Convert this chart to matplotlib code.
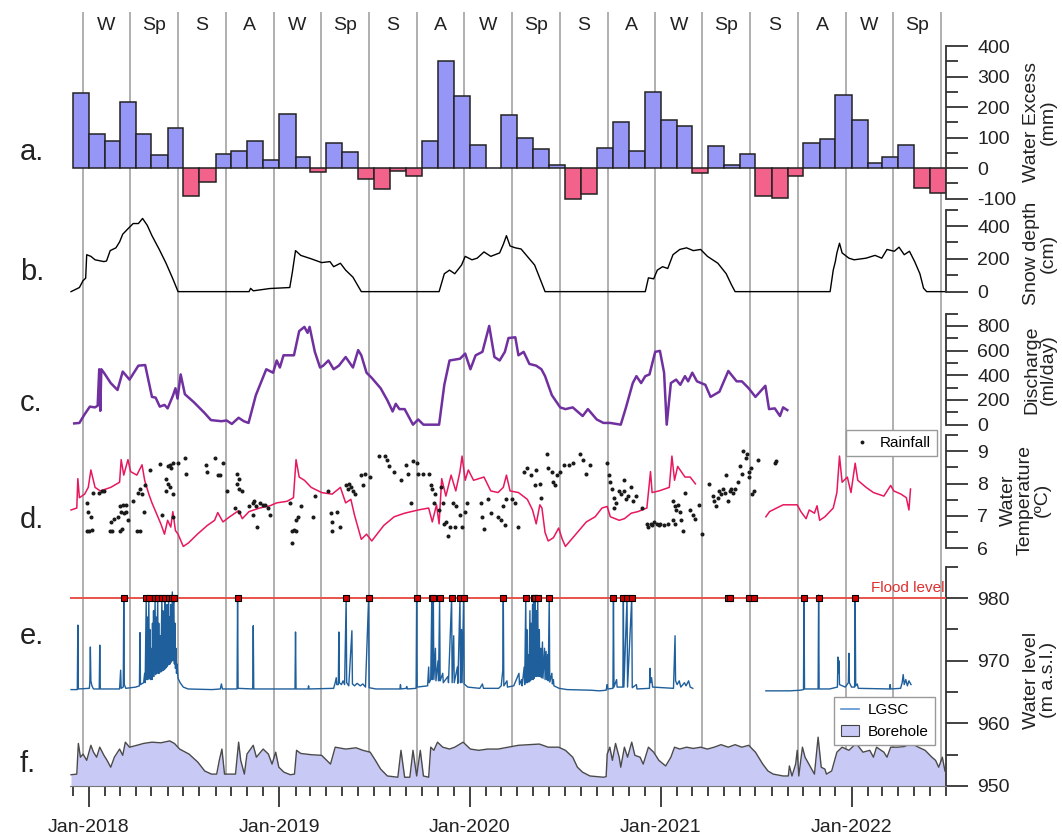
import numpy as np
import pandas as pd
import matplotlib
matplotlib.use("Agg")
import matplotlib.pyplot as plt
import matplotlib.dates as mdates
import matplotlib.transforms as mtransforms
from matplotlib.lines import Line2D
from matplotlib.patches import Patch
from matplotlib.ticker import FixedLocator

plt.rcParams['font.family'] = ['Liberation Sans', 'DejaVu Sans']

nan = np.nan

# ---------------- data ----------------
season_edges = ["2017-12-21", "2018-03-21", "2018-06-21", "2018-09-21", "2018-12-21",
                "2019-03-21", "2019-06-21", "2019-09-21", "2019-12-21", "2020-03-21",
                "2020-06-21", "2020-09-21", "2020-12-21", "2021-03-21", "2021-06-21",
                "2021-09-21", "2021-12-21", "2022-03-21", "2022-06-21"]
season_names = ["W", "Sp", "S", "A"] * 4 + ["W", "Sp"]

# a. monthly water excess (mm), Dec 2017 .. Jun 2022
excess_start = "2017-12-01"
excess = [245, 111, 90, 216, 111, 43, 131, -92, -45, 46, 56, 89,
          27, 178, 38, -14, 81, 52, -36, -70, -11, -27, 89, 351,
          237, 76, 0, 173, 100, 63, 9, -100, -86, 65, 151, 56,
          249, 157, 137, -16, 72, 11, 46, -92, -97, -25, 83, 94,
          240, 159, 16, 38, 75, -65, -81]

# b. snow depth (cm)
snow = [("2017-11-28", 0), ("2017-12-14", 25), ("2017-12-21", 67), ("2017-12-26", 82),
        ("2017-12-28", 225), ("2018-01-05", 215), ("2018-01-13", 194), ("2018-01-30", 183),
        ("2018-02-04", 187), ("2018-02-11", 250), ("2018-02-22", 267), ("2018-03-01", 303),
        ("2018-03-07", 350), ("2018-03-17", 383), ("2018-03-27", 415), ("2018-04-06", 415),
        ("2018-04-14", 446), ("2018-04-23", 404), ("2018-05-02", 341), ("2018-05-16", 257),
        ("2018-05-29", 173), ("2018-06-11", 78), ("2018-06-21", 0), ("2018-11-04", 0),
        ("2018-11-07", 20), ("2018-11-12", 5), ("2018-12-14", 19), ("2019-01-21", 25),
        ("2019-01-26", 120), ("2019-02-01", 250), ("2019-02-11", 221), ("2019-03-03", 200),
        ("2019-03-23", 177), ("2019-04-08", 183), ("2019-04-15", 152), ("2019-04-28", 173),
        ("2019-05-08", 131), ("2019-05-22", 88), ("2019-06-07", 0), ("2019-11-03", 0),
        ("2019-11-13", 109), ("2019-11-23", 131), ("2019-12-03", 109), ("2019-12-16", 162),
        ("2019-12-23", 215), ("2020-01-05", 194), ("2020-01-15", 204), ("2020-01-28", 242),
        ("2020-02-10", 215), ("2020-02-27", 236), ("2020-03-05", 288), ("2020-03-11", 341),
        ("2020-03-18", 278), ("2020-03-28", 267), ("2020-04-08", 260), ("2020-05-04", 162),
        ("2020-05-17", 57), ("2020-05-24", 0), ("2020-12-02", 0), ("2020-12-08", 84),
        ("2020-12-18", 78), ("2020-12-25", 131), ("2021-01-04", 152), ("2021-01-14", 141),
        ("2021-01-24", 225), ("2021-02-06", 257), ("2021-02-19", 267), ("2021-03-04", 250),
        ("2021-03-18", 257), ("2021-03-31", 215), ("2021-04-20", 173), ("2021-05-06", 109),
        ("2021-05-16", 42), ("2021-05-23", 0), ("2021-11-21", 0), ("2021-11-27", 131),
        ("2021-12-01", 183), ("2021-12-04", 236), ("2021-12-09", 295), ("2021-12-14", 236),
        ("2021-12-27", 204), ("2022-01-06", 194), ("2022-01-29", 204), ("2022-02-15", 221),
        ("2022-02-28", 204), ("2022-03-10", 257), ("2022-03-24", 246), ("2022-04-02", 271),
        ("2022-04-12", 225), ("2022-04-22", 246), ("2022-05-02", 183), ("2022-05-12", 109),
        ("2022-05-19", 21), ("2022-05-25", 0), ("2022-07-01", 0)]

# c. discharge (ml/day)
discharge = [("2017-12-04", 10), ("2017-12-14", 14), ("2017-12-24", 84), ("2018-01-03", 146),
             ("2018-01-13", 140), ("2018-01-18", 154), ("2018-01-21", 449), ("2018-01-23", 112),
             ("2018-01-25", 449), ("2018-01-30", 421), ("2018-02-12", 337), ("2018-02-25", 281),
             ("2018-03-07", 430), ("2018-03-20", 365), ("2018-04-06", 478), ("2018-04-19", 483),
             ("2018-05-02", 225), ("2018-05-09", 219), ("2018-05-17", 146), ("2018-05-26", 160),
             ("2018-06-01", 132), ("2018-06-11", 233), ("2018-06-16", 295), ("2018-06-20", 211),
             ("2018-06-26", 407), ("2018-07-04", 247), ("2018-07-21", 183), ("2018-08-10", 98),
             ("2018-08-23", 37), ("2018-09-12", 28), ("2018-09-22", 34), ("2018-10-02", 6),
             ("2018-10-15", 56), ("2018-10-25", 28), ("2018-11-03", 14), ("2018-11-17", 239),
             ("2018-12-07", 449), ("2018-12-20", 421), ("2018-12-27", 520), ("2019-01-02", 463),
             ("2019-01-09", 562), ("2019-01-29", 562), ("2019-02-08", 758), ("2019-02-18", 792),
             ("2019-02-24", 744), ("2019-02-28", 792), ("2019-03-10", 590), ("2019-03-20", 463),
             ("2019-03-26", 478), ("2019-04-05", 520), ("2019-04-15", 449), ("2019-04-25", 478),
             ("2019-05-08", 548), ("2019-05-22", 463), ("2019-06-01", 604), ("2019-06-07", 562),
             ("2019-06-17", 421), ("2019-06-27", 379), ("2019-07-14", 295), ("2019-07-27", 197),
             ("2019-08-06", 107), ("2019-08-12", 169), ("2019-08-19", 126), ("2019-08-29", 126),
             ("2019-09-14", 0), ("2019-09-24", 42), ("2019-10-04", 0), ("2019-11-03", 0),
             ("2019-11-13", 323), ("2019-11-23", 520), ("2019-12-13", 534), ("2019-12-23", 576),
             ("2020-01-02", 449), ("2020-01-12", 562), ("2020-01-25", 590), ("2020-02-07", 800),
             ("2020-02-17", 548), ("2020-02-27", 520), ("2020-03-08", 590), ("2020-03-15", 702),
             ("2020-03-28", 708), ("2020-04-03", 562), ("2020-04-13", 590), ("2020-04-24", 492),
             ("2020-05-07", 478), ("2020-05-17", 449), ("2020-05-24", 393), ("2020-06-06", 239),
             ("2020-06-22", 140), ("2020-07-02", 126), ("2020-07-16", 140), ("2020-08-04", 70),
             ("2020-08-14", 126), ("2020-08-31", 42), ("2020-09-13", 14), ("2020-09-26", 14),
             ("2020-10-16", 0), ("2020-10-26", 140), ("2020-11-08", 337), ("2020-11-15", 393),
             ("2020-11-24", 337), ("2020-12-02", 393), ("2020-12-10", 407), ("2020-12-21", 590),
             ("2020-12-30", 598), ("2021-01-07", 421), ("2021-01-12", 0), ("2021-01-20", 337),
             ("2021-01-30", 365), ("2021-02-07", 323), ("2021-02-16", 393), ("2021-02-22", 351),
             ("2021-03-02", 421), ("2021-03-11", 351), ("2021-03-27", 323), ("2021-04-06", 225),
             ("2021-04-23", 267), ("2021-05-10", 435), ("2021-05-26", 351), ("2021-06-05", 351),
             ("2021-06-18", 295), ("2021-07-01", 225), ("2021-07-20", 315), ("2021-07-27", 126),
             ("2021-08-07", 132), ("2021-08-17", 70), ("2021-08-23", 140), ("2021-08-31", 118)]

# d. water temperature (degC)
temperature = [("2017-11-28", 7.18), ("2017-12-09", 7.24), ("2017-12-11", 8.15), ("2017-12-14", 7.56),
               ("2017-12-24", 7.67), ("2017-12-31", 7.88), ("2018-01-05", 8.42), ("2018-01-09", 8.15),
               ("2018-01-13", 7.88), ("2018-01-23", 7.77), ("2018-02-12", 7.88), ("2018-03-01", 8.04),
               ("2018-03-04", 8.74), ("2018-03-09", 8.26), ("2018-03-17", 8.74), ("2018-03-22", 8.37),
               ("2018-04-03", 8.26), ("2018-04-13", 8.58), ("2018-04-18", 8.10), ("2018-04-26", 7.67),
               ("2018-05-02", 7.40), ("2018-05-12", 7.02), ("2018-05-19", 6.75), ("2018-05-26", 6.43),
               ("2018-06-01", 6.86), ("2018-06-07", 6.65), ("2018-06-11", 7.13), ("2018-06-16", 6.54),
               ("2018-06-21", 6.43), ("2018-07-01", 6.05), ("2018-07-11", 6.16), ("2018-07-28", 6.43),
               ("2018-08-16", 6.70), ("2018-08-30", 6.86), ("2018-09-05", 7.10), ("2018-09-15", 6.81),
               ("2018-09-28", 6.97), ("2018-10-15", 7.16), ("2018-10-22", 6.91), ("2018-11-04", 7.13),
               ("2018-11-24", 7.24), ("2018-12-14", 7.31), ("2018-12-27", 7.40), ("2019-01-16", 7.45),
               ("2019-01-28", 7.56), ("2019-02-02", 8.74), ("2019-02-08", 8.20), ("2019-02-18", 8.10),
               ("2019-03-03", 7.88), ("2019-03-23", 7.72), ("2019-04-12", 7.67), ("2019-04-28", 7.88),
               ("2019-05-08", 7.40), ("2019-05-18", 7.51), ("2019-05-25", 7.02), ("2019-06-07", 6.27),
               ("2019-06-17", 6.43), ("2019-06-27", 6.22), ("2019-07-07", 6.43), ("2019-07-20", 6.70),
               ("2019-08-09", 6.97), ("2019-08-29", 7.08), ("2019-09-24", 7.18), ("2019-10-14", 7.24),
               ("2019-10-21", 6.81), ("2019-10-29", 7.34), ("2019-11-03", 6.75), ("2019-11-08", 8.15),
               ("2019-11-16", 7.61), ("2019-11-26", 8.26), ("2019-12-05", 7.77), ("2019-12-13", 8.37),
               ("2019-12-17", 8.85), ("2019-12-23", 8.10), ("2019-12-29", 8.42), ("2020-01-08", 8.10),
               ("2020-01-28", 8.20), ("2020-02-10", 7.77), ("2020-02-24", 7.72), ("2020-03-05", 7.88),
               ("2020-03-11", 8.26), ("2020-03-18", 7.77), ("2020-04-03", 7.72), ("2020-04-20", 7.51),
               ("2020-04-30", 7.18), ("2020-05-07", 6.75), ("2020-05-14", 7.34), ("2020-05-18", 7.24),
               ("2020-05-24", 6.48), ("2020-05-30", 6.22), ("2020-06-09", 6.32), ("2020-06-19", 6.62),
               ("2020-06-26", 6.27), ("2020-07-02", 6.05), ("2020-07-22", 6.43), ("2020-08-11", 6.81),
               ("2020-08-28", 6.97), ("2020-09-10", 7.24), ("2020-09-20", 7.29), ("2020-09-26", 6.97),
               ("2020-10-13", 6.86), ("2020-10-23", 6.91), ("2020-11-05", 7.08), ("2020-11-18", 7.13),
               ("2020-12-05", 7.24), ("2020-12-12", 8.37), ("2020-12-15", 7.72), ("2020-12-28", 7.77),
               ("2021-01-17", 7.88), ("2021-01-22", 8.85), ("2021-01-27", 8.10), ("2021-02-02", 8.53),
               ("2021-02-16", 8.20), ("2021-02-26", 8.20), ("2021-03-08", 7.99), ("2021-03-09", nan),
               ("2021-07-21", 6.97), ("2021-07-28", 7.13), ("2021-08-23", 7.34), ("2021-09-19", 7.34),
               ("2021-09-26", 7.13), ("2021-10-06", 6.91), ("2021-10-12", 7.18), ("2021-10-22", 7.08),
               ("2021-10-27", 7.31), ("2021-11-01", 6.86), ("2021-11-11", 6.97), ("2021-11-27", 7.24),
               ("2021-12-04", 7.72), ("2021-12-09", 8.85), ("2021-12-14", 8.04), ("2021-12-24", 8.20),
               ("2021-12-31", 7.72), ("2022-01-08", 8.63), ("2022-01-13", 8.10), ("2022-01-29", 7.88),
               ("2022-02-12", 7.72), ("2022-03-04", 7.61), ("2022-03-17", 7.94), ("2022-03-23", 7.77),
               ("2022-04-06", 7.67), ("2022-04-16", 7.56), ("2022-04-21", 7.18), ("2022-04-24", 7.83)]

# rainfall dots: (days after 2017-12-21, height on the temperature scale)
rain_origin = "2017-12-21"
rainfall = [(7, 7.40), (10, 7.13), (15, 6.97), (19, 7.72), (7, 6.54), (12, 6.54), (17, 6.56),
            (30, 7.72), (36, 7.77), (40, 7.77), (54, 6.81), (60, 6.91), (66, 6.97), (70, 7.29),
            (76, 7.34), (73, 7.13), (79, 7.08), (83, 7.13), (86, 6.86), (52, 6.54), (56, 6.54),
            (70, 6.54), (74, 6.59), (83, 7.34), (96, 7.45), (105, 7.72), (109, 7.83), (113, 7.67),
            (116, 7.13), (103, 6.54), (109, 6.54), (119, 7.94), (129, 8.42), (147, 8.60), (158, 8.15),
            (162, 8.53), (166, 8.58), (169, 8.47), (172, 8.63), (182, 8.63), (162, 7.99), (166, 7.88),
            (172, 7.67), (159, 7.77), (195, 8.80), (197, 8.31), (152, 7.02), (172, 6.97), (235, 8.58),
            (238, 8.37), (252, 8.80), (258, 8.26), (262, 8.26), (268, 8.63), (275, 7.77), (295, 8.31),
            (298, 8.15), (295, 7.99), (298, 7.83), (305, 7.77), (291, 7.24), (298, 7.13), (318, 7.29),
            (325, 7.40), (328, 7.45), (331, 7.29), (334, 6.65), (338, 7.40), (344, 7.34), (348, 7.34),
            (354, 7.24), (358, 7.02), (325, 7.02), (397, 7.40), (401, 6.54), (404, 6.56), (407, 6.52),
            (407, 6.86), (411, 6.97), (401, 6.16), (417, 7.29), (440, 6.97), (444, 7.61), (469, 7.77),
            (474, 7.08), (477, 6.81), (477, 6.54), (487, 7.13), (493, 6.65), (503, 7.94), (507, 7.83),
            (513, 7.88), (517, 7.77), (510, 7.99), (520, 7.67), (533, 8.26), (540, 8.31), (536, 7.94),
            (550, 8.20), (566, 8.85), (579, 8.85), (583, 8.74), (586, 8.53), (596, 8.37), (609, 8.10),
            (619, 8.58), (623, 8.31), (632, 8.69), (639, 8.63), (642, 8.31), (652, 8.31), (662, 8.31),
            (629, 7.40), (666, 7.94), (669, 7.83), (672, 7.40), (675, 7.67), (685, 7.88), (689, 7.40),
            (682, 7.18), (692, 6.75), (695, 6.81), (702, 6.65), (699, 6.38), (709, 7.40), (715, 7.29),
            (722, 7.02), (732, 7.13), (735, 7.40), (725, 6.65), (712, 6.65), (762, 7.40), (765, 6.97),
            (768, 6.59), (775, 7.51), (781, 7.08), (795, 6.97), (801, 6.86), (805, 7.29), (808, 6.70),
            (811, 7.51), (821, 7.51), (828, 7.40), (834, 6.65),
            (845, 8.37), (851, 8.47), (858, 8.26), (865, 7.94), (868, 8.42), (875, 7.99), (878, 7.56),
            (888, 8.90), (891, 8.47), (898, 8.37), (901, 8.04), (904, 7.94), (908, 8.26), (914, 8.37),
            (921, 8.58), (931, 8.58), (938, 8.63), (951, 8.90), (957, 8.74), (964, 8.31), (971, 8.58),
            (1004, 8.63), (1007, 8.26), (1010, 8.04), (1014, 7.83), (1017, 7.56), (1020, 7.40),
            (1017, 7.24), (1027, 7.77), (1030, 7.67), (1037, 8.10), (1037, 7.77), (1040, 7.51),
            (1043, 7.61), (1050, 7.88), (1053, 7.45), (1060, 7.61), (1070, 7.24), (1080, 6.75),
            (1083, 6.65), (1087, 6.75), (1090, 6.70), (1093, 6.81), (1100, 6.75), (1103, 6.70),
            (1106, 6.75), (1113, 6.70), (1120, 6.75), (1130, 7.45), (1133, 7.29), (1136, 7.18),
            (1139, 7.34), (1143, 7.13), (1130, 6.86), (1133, 6.75), (1146, 6.86), (1149, 6.54),
            (1153, 7.72), (1163, 7.18), (1169, 7.02), (1173, 6.91), (1179, 7.34), (1186, 6.43),
            (1199, 7.99), (1206, 7.61), (1209, 7.45), (1212, 7.29), (1216, 7.56), (1219, 7.77),
            (1222, 7.67), (1226, 7.83), (1229, 7.72), (1232, 8.26), (1236, 7.45), (1239, 7.77),
            (1242, 7.83), (1245, 7.72), (1249, 7.83), (1255, 8.04), (1259, 8.53), (1262, 8.31),
            (1265, 9.01), (1269, 8.80), (1272, 8.90), (1275, 8.37), (1279, 8.47), (1275, 8.20),
            (1281, 7.67), (1285, 7.77), (1292, 8.74), (1325, 8.63), (1328, 8.69)]

# e. LGSC stream water level (m a.s.l.)
lgsc = [("2017-11-28", 965.4), ("2017-12-10", 965.4), ("2017-12-11", 975.7), ("2017-12-12", 965.5),
        ("2018-01-02", 965.6), ("2018-01-03", 966.5), ("2018-01-04", 972.2), ("2018-01-05", 966.8),
        ("2018-01-07", 966.0), ("2018-01-10", 965.5), ("2018-01-21", 965.5), ("2018-01-22", 972.5),
        ("2018-01-23", 965.5), ("2018-03-01", 965.5), ("2018-03-03", 968.5), ("2018-03-04", 965.6),
        ("2018-03-08", 965.8), ("2018-03-09", 980.0), ("2018-03-10", 966.2), ("2018-03-13", 965.6),
        ("2018-04-01", 965.8), ("2018-04-08", 966.0), ("2018-04-09", 974.5), ("2018-04-10", 966.2),
        ("2018-04-16", 966.5), ("2018-04-18", 968.0), ("2018-04-19", 966.5), ("2018-04-21", 980.0),
        ("2018-04-22", 967.0), ("2018-04-23", 977.0), ("2018-04-24", 967.0), ("2018-04-26", 980.0),
        ("2018-04-27", 967.2), ("2018-04-28", 975.0), ("2018-04-29", 967.0), ("2018-04-30", 972.0),
        ("2018-05-02", 967.0), ("2018-05-03", 976.0), ("2018-05-04", 967.5), ("2018-05-05", 978.0),
        ("2018-05-06", 967.5), ("2018-05-08", 980.0), ("2018-05-09", 967.8), ("2018-05-10", 977.0),
        ("2018-05-11", 968.0), ("2018-05-13", 980.0), ("2018-05-14", 968.0), ("2018-05-15", 976.0),
        ("2018-05-16", 968.0), ("2018-05-18", 974.0), ("2018-05-19", 968.2), ("2018-05-21", 980.0),
        ("2018-05-22", 968.4), ("2018-05-23", 978.0), ("2018-05-24", 968.5), ("2018-05-25", 975.0),
        ("2018-05-26", 968.6), ("2018-05-27", 980.0), ("2018-05-28", 968.8), ("2018-05-29", 977.0),
        ("2018-05-30", 969.0), ("2018-05-31", 979.0), ("2018-06-01", 969.2), ("2018-06-03", 980.0),
        ("2018-06-04", 969.4), ("2018-06-05", 977.0), ("2018-06-06", 969.5), ("2018-06-07", 979.0),
        ("2018-06-08", 969.8), ("2018-06-10", 981.0), ("2018-06-11", 970.0), ("2018-06-12", 979.0),
        ("2018-06-13", 980.0), ("2018-06-14", 969.5), ("2018-06-15", 976.0), ("2018-06-16", 968.8),
        ("2018-06-17", 972.0), ("2018-06-18", 968.0), ("2018-06-19", 969.5), ("2018-06-21", 967.2),
        ("2018-06-25", 966.5), ("2018-07-01", 965.8), ("2018-07-10", 965.5), ("2018-08-25", 965.4),
        ("2018-09-10", 965.5), ("2018-09-12", 966.3), ("2018-09-14", 965.5), ("2018-10-12", 965.5),
        ("2018-10-13", 980.0), ("2018-10-14", 965.6), ("2018-11-11", 965.5), ("2018-11-12", 975.6),
        ("2018-11-13", 965.5), ("2019-01-31", 965.5), ("2019-02-01", 974.6), ("2019-02-02", 965.5),
        ("2019-02-25", 965.5), ("2019-02-26", 966.0), ("2019-02-27", 965.5), ("2019-04-15", 965.6),
        ("2019-04-18", 966.5), ("2019-04-20", 967.3), ("2019-04-21", 966.2), ("2019-04-24", 966.2),
        ("2019-04-25", 974.6), ("2019-04-26", 966.5), ("2019-04-30", 966.2), ("2019-05-03", 966.8),
        ("2019-05-06", 966.2), ("2019-05-09", 980.0), ("2019-05-10", 966.5), ("2019-05-14", 966.0),
        ("2019-05-20", 974.8), ("2019-05-21", 966.3), ("2019-05-25", 966.0), ("2019-05-30", 966.4),
        ("2019-06-05", 966.0), ("2019-06-10", 966.3), ("2019-06-15", 965.8), ("2019-06-21", 980.0),
        ("2019-06-22", 965.7), ("2019-07-05", 965.5), ("2019-08-20", 965.5), ("2019-08-21", 966.2),
        ("2019-08-22", 965.5), ("2019-09-01", 965.6), ("2019-09-02", 965.9), ("2019-09-03", 965.5),
        ("2019-09-20", 965.6), ("2019-09-21", 980.0), ("2019-09-22", 965.8), ("2019-10-12", 966.0),
        ("2019-10-14", 969.0), ("2019-10-15", 966.5), ("2019-10-18", 967.0), ("2019-10-20", 980.0),
        ("2019-10-21", 967.0), ("2019-10-22", 970.0), ("2019-10-23", 980.0), ("2019-10-24", 967.0),
        ("2019-10-27", 972.0), ("2019-10-28", 966.8), ("2019-11-01", 970.0), ("2019-11-02", 966.8),
        ("2019-11-04", 980.0), ("2019-11-05", 966.8), ("2019-11-10", 968.0), ("2019-11-11", 966.5),
        ("2019-11-20", 967.5), ("2019-11-21", 966.5), ("2019-11-27", 980.0), ("2019-11-28", 966.5),
        ("2019-12-01", 974.0), ("2019-12-02", 966.5), ("2019-12-08", 969.0), ("2019-12-09", 966.4),
        ("2019-12-13", 980.0), ("2019-12-14", 966.5), ("2019-12-16", 975.0), ("2019-12-17", 966.5),
        ("2019-12-20", 980.0), ("2019-12-21", 966.3), ("2019-12-28", 965.8), ("2020-01-20", 965.6),
        ("2020-01-25", 966.3), ("2020-01-27", 965.6), ("2020-02-25", 965.6), ("2020-03-01", 966.0),
        ("2020-03-04", 968.5), ("2020-03-05", 980.0), ("2020-03-06", 966.0), ("2020-03-12", 966.8),
        ("2020-03-13", 965.8), ("2020-03-25", 966.0), ("2020-04-04", 968.0), ("2020-04-05", 966.2),
        ("2020-04-09", 967.0), ("2020-04-10", 966.0), ("2020-04-14", 969.0), ("2020-04-15", 966.2),
        ("2020-04-17", 980.0), ("2020-04-18", 966.5), ("2020-04-19", 975.0), ("2020-04-20", 966.5),
        ("2020-04-22", 971.0), ("2020-04-23", 966.6), ("2020-04-25", 978.0), ("2020-04-26", 966.8),
        ("2020-04-27", 976.0), ("2020-04-28", 967.0), ("2020-04-30", 979.0), ("2020-05-01", 967.0),
        ("2020-05-02", 980.0), ("2020-05-03", 967.2), ("2020-05-04", 979.0), ("2020-05-05", 980.0),
        ("2020-05-06", 967.5), ("2020-05-07", 978.0), ("2020-05-08", 967.5), ("2020-05-10", 980.0),
        ("2020-05-11", 967.5), ("2020-05-13", 975.0), ("2020-05-14", 967.5), ("2020-05-16", 972.0),
        ("2020-05-17", 967.3), ("2020-05-19", 973.0), ("2020-05-20", 967.2), ("2020-05-23", 972.0),
        ("2020-05-24", 967.0), ("2020-05-26", 971.5), ("2020-05-27", 967.0), ("2020-05-29", 971.0),
        ("2020-05-30", 966.8), ("2020-06-01", 980.0), ("2020-06-02", 966.6), ("2020-06-06", 968.0),
        ("2020-06-07", 966.3), ("2020-06-09", 967.0), ("2020-06-10", 966.0), ("2020-06-20", 965.6),
        ("2020-07-05", 965.4), ("2020-08-20", 965.3), ("2020-09-05", 965.2), ("2020-09-18", 965.3),
        ("2020-09-20", 966.2), ("2020-09-21", 965.5), ("2020-10-01", 965.6), ("2020-10-02", 980.0),
        ("2020-10-03", 965.8), ("2020-10-08", 967.0), ("2020-10-09", 965.8), ("2020-10-20", 965.8),
        ("2020-10-21", 980.0), ("2020-10-22", 965.8), ("2020-10-28", 980.0), ("2020-10-29", 965.8),
        ("2020-11-06", 980.0), ("2020-11-07", 965.7), ("2020-11-15", 966.2), ("2020-11-16", 965.5),
        ("2020-12-10", 965.6), ("2020-12-11", 968.8), ("2020-12-12", 966.5), ("2020-12-14", 967.3),
        ("2020-12-16", 965.8), ("2021-01-25", 965.6), ("2021-01-28", 974.0), ("2021-01-29", 966.8),
        ("2021-02-01", 966.2), ("2021-02-05", 966.8), ("2021-02-08", 965.8), ("2021-02-15", 966.5),
        ("2021-02-18", 966.0), ("2021-02-23", 966.8), ("2021-02-26", 965.8), ("2021-03-03", 965.6),
        ("2021-03-04", nan),
        ("2021-07-21", 965.2), ("2021-09-05", 965.2), ("2021-09-25", 965.3), ("2021-10-01", 965.4),
        ("2021-10-02", 980.0), ("2021-10-03", 965.5), ("2021-10-29", 965.5), ("2021-10-30", 980.5),
        ("2021-10-31", 965.5), ("2021-11-20", 965.5), ("2021-12-05", 965.8), ("2021-12-06", 970.6),
        ("2021-12-07", 968.0), ("2021-12-08", 970.0), ("2021-12-09", 966.2), ("2021-12-20", 965.8),
        ("2021-12-26", 966.5), ("2021-12-27", 971.2), ("2021-12-28", 966.5), ("2022-01-01", 965.8),
        ("2022-01-07", 965.8), ("2022-01-08", 980.0), ("2022-01-09", 966.0), ("2022-01-12", 966.3),
        ("2022-01-14", 965.6), ("2022-03-15", 965.5), ("2022-03-16", 966.2), ("2022-03-17", 965.5),
        ("2022-04-05", 965.6), ("2022-04-08", 966.5), ("2022-04-10", 967.8), ("2022-04-12", 966.2),
        ("2022-04-15", 967.0), ("2022-04-18", 966.0), ("2022-04-21", 966.8), ("2022-04-25", 966.2)]

flood_level = 980
flood_dates = ["2018-03-09", "2018-04-21", "2018-04-26", "2018-05-08", "2018-05-13", "2018-05-21",
               "2018-05-27", "2018-06-03", "2018-06-10", "2018-06-13", "2018-10-13", "2019-05-09",
               "2019-06-21", "2019-09-21", "2019-10-20", "2019-10-23", "2019-11-04", "2019-11-27",
               "2019-12-13", "2019-12-20", "2020-03-05", "2020-04-17", "2020-05-02", "2020-05-05",
               "2020-05-10", "2020-06-01", "2020-10-02", "2020-10-21", "2020-10-28", "2020-11-06",
               "2021-05-09", "2021-05-14", "2021-06-18", "2021-06-28", "2021-10-02", "2021-10-30",
               "2022-01-08"]

# f. borehole water level (m a.s.l.)
borehole = [("2017-11-28", 951.8), ("2017-12-09", 951.9), ("2017-12-12", 956.8), ("2017-12-16", 954.6),
            ("2017-12-21", 955.1), ("2017-12-28", 954.1), ("2018-01-05", 956.5), ("2018-01-10", 955.4),
            ("2018-01-16", 954.6), ("2018-01-22", 956.2), ("2018-01-30", 954.9), ("2018-02-05", 954.1),
            ("2018-02-12", 953.0), ("2018-02-19", 954.6), ("2018-03-01", 955.9), ("2018-03-07", 954.9),
            ("2018-03-12", 957.0), ("2018-03-20", 956.2), ("2018-04-03", 956.5), ("2018-04-16", 956.8),
            ("2018-05-02", 957.0), ("2018-05-19", 956.9), ("2018-06-05", 957.2), ("2018-06-14", 956.8),
            ("2018-06-24", 955.9), ("2018-07-12", 955.1), ("2018-07-29", 953.8), ("2018-08-11", 952.4),
            ("2018-08-24", 951.9), ("2018-09-03", 951.9), ("2018-09-08", 954.1), ("2018-09-13", 955.9),
            ("2018-09-18", 951.9), ("2018-10-09", 951.9), ("2018-10-15", 957.0), ("2018-10-19", 954.1),
            ("2018-10-26", 951.9), ("2018-10-31", 955.1), ("2018-11-12", 956.5), ("2018-11-18", 954.6),
            ("2018-12-01", 955.9), ("2018-12-11", 955.1), ("2018-12-18", 953.5), ("2018-12-25", 955.4),
            ("2018-12-31", 953.0), ("2019-01-10", 952.2), ("2019-01-22", 951.8), ("2019-01-30", 951.9),
            ("2019-02-03", 955.7), ("2019-02-11", 955.2), ("2019-03-03", 955.0), ("2019-03-23", 954.9),
            ("2019-04-09", 953.5), ("2019-04-18", 956.2), ("2019-05-08", 955.9), ("2019-05-28", 956.1),
            ("2019-06-10", 955.7), ("2019-06-24", 955.4), ("2019-07-04", 954.1), ("2019-07-14", 952.7),
            ("2019-07-27", 951.6), ("2019-08-16", 951.4), ("2019-08-22", 955.7), ("2019-08-29", 951.4),
            ("2019-09-08", 951.4), ("2019-09-14", 955.7), ("2019-09-21", 951.6), ("2019-09-28", 955.7),
            ("2019-10-04", 951.6), ("2019-10-14", 951.4), ("2019-10-18", 956.2), ("2019-10-24", 955.7),
            ("2019-10-31", 957.0), ("2019-11-10", 956.2), ("2019-11-23", 955.9), ("2019-12-03", 956.2),
            ("2019-12-19", 957.0), ("2020-01-02", 955.9), ("2020-01-18", 955.7), ("2020-02-04", 955.9),
            ("2020-02-24", 955.9), ("2020-03-15", 956.2), ("2020-04-03", 956.5), ("2020-04-23", 956.6),
            ("2020-05-13", 956.7), ("2020-05-30", 956.2), ("2020-06-19", 956.2), ("2020-07-02", 955.7),
            ("2020-07-16", 954.6), ("2020-07-25", 953.0), ("2020-08-04", 952.2), ("2020-08-18", 951.6),
            ("2020-09-13", 951.4), ("2020-09-18", 951.5), ("2020-09-20", 955.1), ("2020-09-25", 956.2),
            ("2020-09-30", 954.1), ("2020-10-06", 956.8), ("2020-10-13", 954.6), ("2020-10-16", 953.0),
            ("2020-10-23", 956.2), ("2020-10-29", 954.6), ("2020-11-06", 957.0), ("2020-11-12", 954.9),
            ("2020-11-22", 954.6), ("2020-11-28", 953.5), ("2020-12-08", 956.2), ("2020-12-18", 955.4),
            ("2020-12-28", 954.1), ("2021-01-10", 953.2), ("2021-01-20", 954.6), ("2021-01-27", 956.2),
            ("2021-02-06", 955.9), ("2021-02-19", 956.2), ("2021-03-04", 956.0), ("2021-03-18", 956.2),
            ("2021-03-31", 955.9), ("2021-04-13", 956.2), ("2021-04-26", 956.6), ("2021-05-10", 956.2),
            ("2021-05-23", 956.6), ("2021-06-05", 956.2), ("2021-06-18", 956.5), ("2021-07-01", 955.4),
            ("2021-07-15", 953.5), ("2021-07-25", 952.4), ("2021-08-04", 951.9), ("2021-08-23", 951.6),
            ("2021-09-02", 951.6), ("2021-09-04", 953.2), ("2021-09-09", 951.6), ("2021-09-16", 953.5),
            ("2021-09-19", 955.7), ("2021-09-22", 951.6), ("2021-09-29", 956.2), ("2021-10-04", 954.6),
            ("2021-10-22", 951.9), ("2021-10-29", 957.8), ("2021-11-04", 953.0), ("2021-11-11", 952.7),
            ("2021-11-14", 951.9), ("2021-11-24", 952.4), ("2021-12-04", 955.4), ("2021-12-14", 956.2),
            ("2021-12-27", 955.7), ("2022-01-10", 956.8), ("2022-01-23", 955.4), ("2022-02-05", 955.7),
            ("2022-02-12", 954.6), ("2022-02-18", 956.2), ("2022-03-04", 955.4), ("2022-03-10", 954.6),
            ("2022-03-17", 956.2), ("2022-03-30", 956.2), ("2022-04-12", 956.3), ("2022-04-26", 956.8),
            ("2022-05-09", 956.2), ("2022-05-22", 955.7), ("2022-06-04", 954.6), ("2022-06-11", 954.1),
            ("2022-06-17", 953.0), ("2022-06-24", 954.6), ("2022-06-29", 952.4)]


def series(pairs):
    x = mdates.datestr2num([p[0] for p in pairs])
    y = np.array([p[1] for p in pairs], dtype=float)
    return x, y


# ---------------- layout (pixel based) ----------------
W_PX, H_PX = 1062, 836
fig = plt.figure(figsize=(W_PX / 100, H_PX / 100), dpi=100)

X0 = mdates.datestr2num("2017-11-26")
X1 = mdates.datestr2num("2022-07-01")
left, width = 70 / W_PX, 876 / W_PX


def add_ax(top, bottom):
    return fig.add_axes([left, 1 - bottom / H_PX, width, (bottom - top) / H_PX])


ax_a = add_ax(12, 205)
ax_b = add_ax(205, 300)
ax_c = add_ax(300, 428)
ax_d = add_ax(428, 560)
ax_e = add_ax(560, 786)

axes_cfg = [
    (ax_a, (-121, 512), (-100, 400), [-100, 0, 100, 200, 300, 400], [-50, 50, 150, 250, 350]),
    (ax_b, (-51, 528), (0, 500), [0, 200, 400], [100, 300, 500]),
    (ax_c, (-27, 1010), (0, 900), [0, 200, 400, 600, 800], [100, 300, 500, 700, 900]),
    (ax_d, (5.63, 9.72), (6, 9.5), [6, 7, 8, 9], [6.5, 7.5, 8.5, 9.5]),
    (ax_e, (950, 986.1), (950, 985), [950, 960, 970, 980], [955, 965, 975, 985]),
]

tick_col = '#333333'
for ax, ylim, bounds, major, minor in axes_cfg:
    ax.set_xlim(X0, X1)
    ax.set_ylim(*ylim)
    ax.patch.set_alpha(0)
    for s in ['top', 'left', 'bottom']:
        ax.spines[s].set_visible(False)
    ax.spines['right'].set_bounds(*bounds)
    ax.spines['right'].set_color(tick_col)
    ax.spines['right'].set_linewidth(1.3)
    ax.yaxis.tick_right()
    ax.yaxis.set_major_locator(FixedLocator(major))
    ax.yaxis.set_minor_locator(FixedLocator(minor))
    ax.yaxis.set_major_formatter(plt.FuncFormatter(lambda v, p: f"{v:g}"))
    ax.tick_params(axis='y', which='major', length=15.5, width=1.3, pad=7,
                   labelsize=14, colors=tick_col, labelcolor='#222222')
    ax.tick_params(axis='y', which='minor', length=8.5, width=1.3, colors=tick_col)
    ax.tick_params(axis='x', which='both', bottom=False, labelbottom=False)
    for e in season_edges:
        ax.axvline(mdates.datestr2num(e), color='#a9a9a9', lw=1.3, zorder=0)

# season labels across the top
edges_num = mdates.datestr2num(season_edges)
trans_a = mtransforms.blended_transform_factory(ax_a.transData, ax_a.transAxes)
for i, name in enumerate(season_names):
    ax_a.text((edges_num[i] + edges_num[i + 1]) / 2, 1 - 13 / 193, name,
              transform=trans_a, ha='center', va='center', fontsize=14, color='#222222')

# a. water excess bars
month_edges = pd.date_range(excess_start, periods=len(excess) + 1, freq="MS")
m_num = mdates.date2num(month_edges)
bar_cols = ['#9696f6' if v >= 0 else '#f2628a' for v in excess]
ax_a.bar(m_num[:-1], excess, width=np.diff(m_num), align='edge', color=bar_cols,
         edgecolor='#222222', linewidth=1.1, zorder=2)

# b. snow depth
sx, sy = series(snow)
ax_b.plot(sx, sy, color='black', lw=1.0, zorder=2)

# c. discharge
cx, cy = series(discharge)
ax_c.plot(cx, cy, color='#7030a0', lw=1.8, zorder=2)

# d. water temperature + rainfall
tx, ty = series(temperature)
ax_d.plot(tx, ty, color='#e8185c', lw=1.1, zorder=2)
rx = mdates.datestr2num(rain_origin) + np.array([r[0] for r in rainfall], dtype=float)
ry = np.array([r[1] for r in rainfall])
ax_d.plot(rx, ry, 'o', ms=1.9, color='#1a1a1a', zorder=3)
ax_d.legend([Line2D([], [], ls='none', marker='o', ms=1.8, color='#1a1a1a')], ['Rainfall'],
            loc='upper right', bbox_to_anchor=(937 / W_PX, 1 - 430 / H_PX),
            bbox_transform=fig.transFigure, borderaxespad=0, fontsize=11,
            fancybox=False, edgecolor='#999999', handlelength=1.2, handletextpad=0.6,
            borderpad=0.4, framealpha=1)

# e./f. water levels
bx, by = series(borehole)
ax_e.fill_between(bx, 950, by, color='#c9c9f6', lw=0, zorder=2)
ax_e.plot(bx, by, color='#4a4a4a', lw=1.0, zorder=3)
lx, ly = series(lgsc)
ax_e.plot(lx, ly, color='#1f5f9c', lw=1.0, zorder=3)
ax_e.axhline(flood_level, color='#e8524a', lw=1.4, zorder=4)
ax_e.plot(mdates.datestr2num(flood_dates), [flood_level] * len(flood_dates), 's', ms=4.5,
          mfc='#d00000', mec='black', mew=0.8, zorder=5)
ax_e.text(X1 - 3, flood_level + 0.5, 'Flood level', color='#e03030', fontsize=11,
          ha='right', va='bottom', zorder=5)
ax_e.legend([Line2D([], [], color='#5b93d3', lw=1.2),
             Patch(facecolor='#c9c9f6', edgecolor='#444444', lw=0.8)],
            ['LGSC', 'Borehole'], loc='upper right',
            bbox_to_anchor=(935 / W_PX, 1 - 697 / H_PX), bbox_transform=fig.transFigure,
            borderaxespad=0, fontsize=11, fancybox=False, edgecolor='#999999',
            handlelength=1.2, handletextpad=0.6, borderpad=0.4, framealpha=1)

# bottom date axis
ax_e.spines['bottom'].set_visible(True)
ax_e.spines['bottom'].set_color('#777777')
ax_e.xaxis.set_major_locator(mdates.YearLocator())
ax_e.xaxis.set_major_formatter(mdates.DateFormatter('%b-%Y'))
ax_e.xaxis.set_minor_locator(mdates.MonthLocator())
ax_e.tick_params(axis='x', which='major', bottom=True, labelbottom=True, length=15,
                 width=1.3, pad=9, labelsize=14, colors=tick_col, labelcolor='#222222')
ax_e.tick_params(axis='x', which='minor', bottom=True, length=7.5, width=1.3, colors=tick_col)

# panel letters
for letter, ypx in [('a.', 152), ('b.', 272), ('c.', 403), ('d.', 520), ('e.', 636), ('f.', 764)]:
    fig.text(20 / W_PX, 1 - ypx / H_PX, letter, fontsize=21, va='center', ha='left', color='#222222')

# right-hand axis titles
for txt, xpx, ypx in [('Water Excess\n(mm)', 1040, 122), ('Snow depth\n(cm)', 1040, 253),
                      ('Discharge\n(ml/day)', 1040, 370), ('Water\nTemperature\n(ºC)', 1025, 500),
                      ('Water level\n(m a.s.l.)', 1040, 680)]:
    fig.text(xpx / W_PX, 1 - ypx / H_PX, txt, rotation=90, ha='center', va='center',
             multialignment='center', fontsize=14, color='#222222', linespacing=1.0)

fig.savefig('out.png', dpi=100)
